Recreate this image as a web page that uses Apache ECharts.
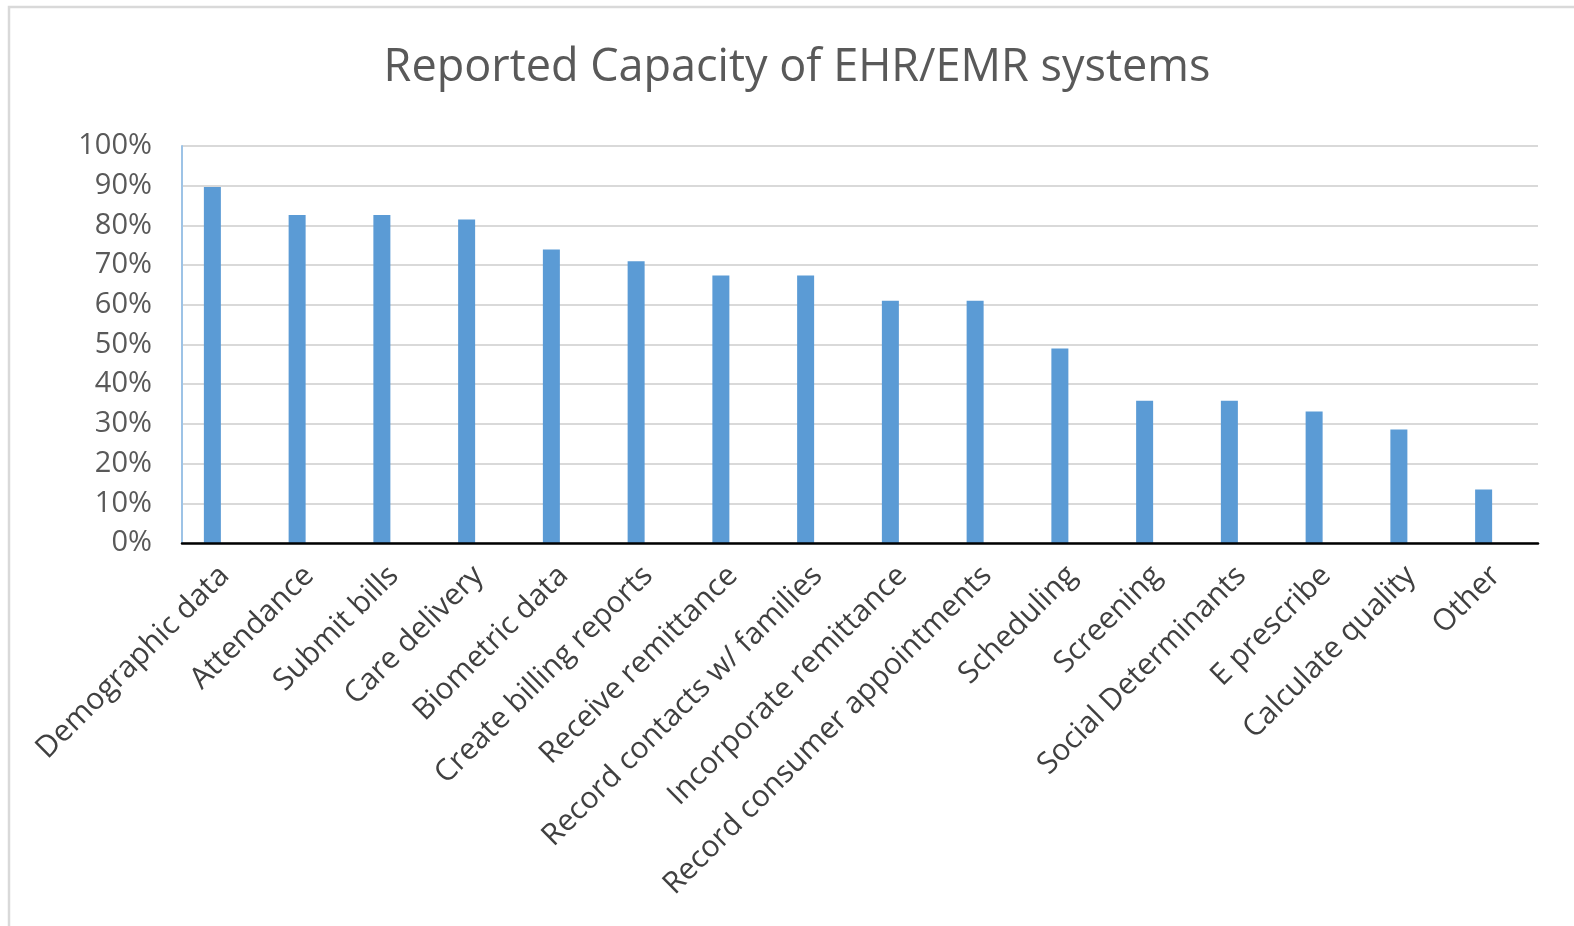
<!DOCTYPE html>
<html>
<head>
<meta charset="utf-8">
<title>Reported Capacity of EHR/EMR systems</title>
<script src="https://cdn.jsdelivr.net/npm/echarts@6/dist/echarts.min.js"></script>
<style>
    html, body {
        margin: 0;
        padding: 0;
        background: #fff;
    }

    #chart {
        width: 1574px;
        height: 926px;
    }
</style>
</head>
<body>
<div id="chart"></div>
<script>
// categories, left to right
var categories = [
    'Demographic data', 'Attendance', 'Submit bills', 'Care delivery',
    'Biometric data', 'Create billing reports', 'Receive remittance',
    'Record contacts w/ families', 'Incorporate remittance',
    'Record consumer appointments', 'Scheduling', 'Screening',
    'Social Determinants', 'E prescribe', 'Calculate quality', 'Other'
];
// share of systems
var capacity = [0.897, 0.826, 0.826, 0.815, 0.739, 0.71, 0.674, 0.674,
    0.61, 0.61, 0.49, 0.358, 0.358, 0.331, 0.286, 0.135];

var myChart = echarts.init(document.getElementById('chart'));

var font = '"Open Sans", "Noto Sans", sans-serif';

var option = {
    animation: false,
    backgroundColor: '#fff',
    textStyle: { fontFamily: font },
    title: {
        text: 'Reported Capacity of EHR/EMR systems',
        left: 792,
        top: 41,
        textAlign: 'center',
        textStyle: {
            fontFamily: font,
            fontSize: 45,
            fontWeight: 'normal',
            color: '#595959'
        }
    },
    graphic: [
        {
            // outer chart border (only top and left visible in the picture)
            type: 'rect',
            shape: { x: 9, y: 7, width: 1600, height: 960 },
            style: { fill: null, stroke: '#d9d9d9', lineWidth: 2.5 },
            silent: true
        }
    ],
    grid: [
        // grid 0: axes, labels and gridlines
        { left: 182, right: 36, top: 146, bottom: 383 },
        // grid 1: the bars, sitting left of the category centre like the excel chart
        { left: 170, right: 48, top: 146, bottom: 383 }
    ],
    xAxis: [
        {
            type: 'category',
            gridIndex: 0,
            data: categories,
            axisTick: { show: false },
            axisLine: { lineStyle: { color: '#000', width: 2.5 } },
            axisLabel: {
                interval: 0,
                rotate: 45,
                margin: 28,
                fontSize: 30,
                color: '#404040',
                fontFamily: font
            },
            z: 5
        },
        {
            type: 'category',
            gridIndex: 1,
            data: categories,
            show: false
        }
    ],
    yAxis: [
        {
            type: 'value',
            gridIndex: 0,
            min: 0,
            max: 1,
            interval: 0.1,
            axisLine: { show: true, lineStyle: { color: '#9dc3e6', width: 2 } },
            axisTick: { show: false },
            splitLine: { lineStyle: { color: '#d9d9d9', width: 2 } },
            axisLabel: {
                margin: 30,
                fontSize: 29,
                color: '#595959',
                fontFamily: font,
                formatter: function (v) {
                    return Math.round(v * 100) + '%';
                }
            }
        },
        {
            type: 'value',
            gridIndex: 1,
            min: 0,
            max: 1,
            show: false,
            splitLine: { show: false }
        }
    ],
    series: [
        {
            type: 'bar',
            xAxisIndex: 1,
            yAxisIndex: 1,
            data: capacity,
            barWidth: 17,
            itemStyle: { color: '#5b9bd5' },
            z: 3
        }
    ]
};

myChart.setOption(option);
</script>
</body>
</html>
